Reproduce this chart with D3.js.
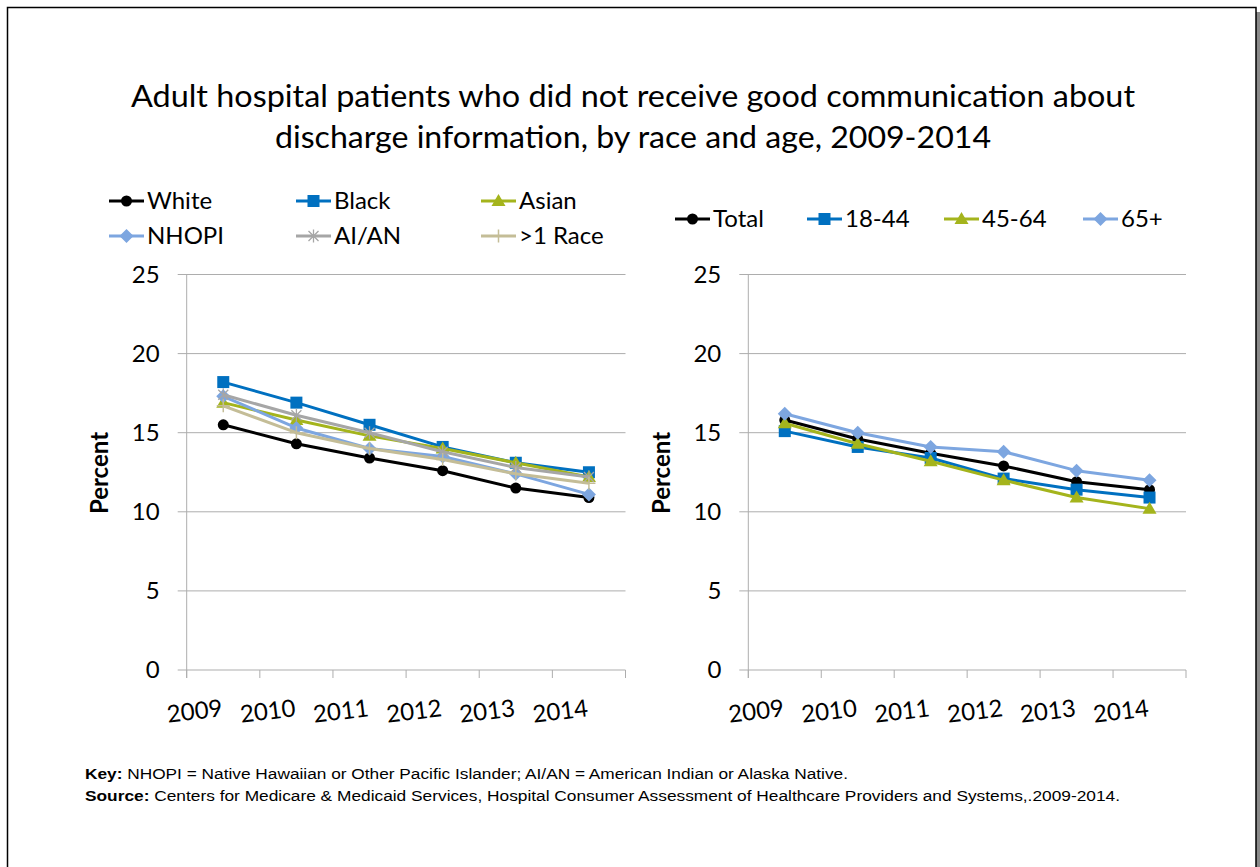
<!DOCTYPE html>
<html><head><meta charset="utf-8">
<script src="https://cdn.jsdelivr.net/npm/d3@7"></script>
<style>html,body{margin:0;padding:0;background:#fff;} svg{display:block;}</style>
</head><body>
<svg id="c" width="1260" height="867"></svg>
<script>
// ---- data ----
const years = ["2009","2010","2011","2012","2013","2014"];
const yTicks = [0,5,10,15,20,25];
const raceNames = ["White","Black","Asian","NHOPI","AI/AN",">1 Race"];
const white = [15.5,14.3,13.4,12.6,11.5,10.9];
const black = [18.2,16.9,15.5,14.1,13.1,12.5];
const asian = [16.9,15.8,14.8,14.0,13.1,12.2];
const nhopi = [17.3,15.3,14.0,13.5,12.4,11.1];
const aian  = [17.4,16.1,15.0,13.8,12.8,12.2];
const multi = [16.7,15.0,14.0,13.3,12.4,11.8];
const ageNames = ["Total","18-44","45-64","65+"];
const total   = [15.8,14.6,13.7,12.9,11.9,11.4];
const age1844 = [15.1,14.1,13.4,12.1,11.4,10.9];
const age4564 = [15.6,14.3,13.2,12.0,10.9,10.2];
const age65   = [16.2,15.0,14.1,13.8,12.6,12.0];
const titleLines = ["Adult hospital patients who did not receive good communication about",
                    "discharge information, by race and age, 2009-2014"];

// ---- styles ----
const C_BLACK="#000000", C_BLUE="#0070C0", C_OLIVE="#A4B41C", C_LBLUE="#7DA6E0", C_GRAY="#A6A6A6", C_TAN="#C4BD97";
const raceSeries = [
  {name:raceNames[0], vals:white, color:C_BLACK, marker:"circle"},
  {name:raceNames[1], vals:black, color:C_BLUE, marker:"square"},
  {name:raceNames[2], vals:asian, color:C_OLIVE, marker:"triangle"},
  {name:raceNames[3], vals:nhopi, color:C_LBLUE, marker:"diamond"},
  {name:raceNames[4], vals:aian, color:C_GRAY, marker:"asterisk"},
  {name:raceNames[5], vals:multi, color:C_TAN, marker:"plus"}
];
const ageSeries = [
  {name:ageNames[0], vals:total, color:C_BLACK, marker:"circle"},
  {name:ageNames[1], vals:age1844, color:C_BLUE, marker:"square"},
  {name:ageNames[2], vals:age4564, color:C_OLIVE, marker:"triangle"},
  {name:ageNames[3], vals:age65, color:C_LBLUE, marker:"diamond"}
];

const svg = d3.select("#c");
const FONT = "Lato, 'Open Sans', sans-serif";
const GRID = "#ADADAD";

// frame
svg.append("rect").attr("x",1256).attr("y",12).attr("width",4).attr("height",860).attr("fill","#8a8a8a");
svg.append("rect").attr("x",7.5).attr("y",7.5).attr("width",1248.5).attr("height",880)
  .attr("fill","#fff").attr("stroke","#000").attr("stroke-width",1.5);

// title
[[titleLines[0],107,1004],[titleLines[1],148,716]].forEach(([t,yy,w])=>{
  svg.append("text").attr("x",633).attr("y",yy).attr("font-family",FONT).attr("font-size",30)
    .attr("text-anchor","middle").attr("fill","#000")
    .attr("textLength",w).attr("lengthAdjust","spacingAndGlyphs").text(t);
});

function drawMarker(g, type, color, cx, cy){
  const m = g.append("g").attr("transform",`translate(${cx},${cy})`);
  if(type==="circle") m.append("circle").attr("r",5.5).attr("fill",color);
  else if(type==="square") m.append("rect").attr("x",-6).attr("y",-6).attr("width",12).attr("height",12).attr("fill",color);
  else if(type==="triangle") m.append("path").attr("d","M0,-7L7,5L-7,5Z").attr("fill",color);
  else if(type==="diamond") m.append("path").attr("d","M0,-7L7,0L0,7L-7,0Z").attr("fill",color);
  else if(type==="asterisk") m.append("path").attr("d","M-5,-5L5,5M-5,5L5,-5M0,-6.5L0,6.5").attr("stroke",color).attr("stroke-width",1.3).attr("fill","none");
  else if(type==="plus") m.append("path").attr("d","M0,-6.5L0,6.5M-6.5,0L6.5,0").attr("stroke",color).attr("stroke-width",1.5).attr("fill","none");
}

function panel(series, x0, x1, yAxisTitleX){
  const x = d3.scaleBand().domain(years).range([x0,x1]);
  const y = d3.scaleLinear().domain([0,25]).range([670,274.5]);
  const g = svg.append("g");
  g.selectAll("line.grid").data(yTicks.filter(t=>t>0)).join("line")
    .attr("x1",x0-9).attr("x2",x1).attr("y1",d=>y(d)).attr("y2",d=>y(d))
    .attr("stroke",GRID).attr("stroke-width",1);
  g.append("line").attr("x1",x0-9).attr("x2",x1).attr("y1",y(0)).attr("y2",y(0)).attr("stroke",GRID);
  g.append("line").attr("x1",x0).attr("x2",x0).attr("y1",y(25)).attr("y2",y(0)+8).attr("stroke",GRID);
  const bounds = years.map(d=>x(d)).concat([x1]);
  g.selectAll("line.xt").data(bounds).join("line")
    .attr("x1",d=>d).attr("x2",d=>d).attr("y1",y(0)).attr("y2",y(0)+8).attr("stroke",GRID);
  g.selectAll("text.yl").data(yTicks).join("text")
    .attr("x",x0-27).attr("y",d=>y(d)).attr("dy","0.35em").attr("text-anchor","end")
    .attr("font-family",FONT).attr("font-size",24).attr("fill","#000").text(d=>d);
  g.selectAll("text.xl").data(years).join("text")
    .attr("transform",d=>`translate(${x(d)+x.bandwidth()/2},${716}) rotate(-7)`)
    .attr("text-anchor","end").attr("font-family",FONT).attr("font-size",24).attr("fill","#000").text(d=>d);
  g.append("text").attr("transform",`translate(${yAxisTitleX},473) rotate(-90)`)
    .attr("text-anchor","middle").attr("dy","0.35em").attr("font-family",FONT).attr("font-weight","bold")
    .attr("font-size",24).attr("fill","#000").text("Percent");
  const line = d3.line().x((d,i)=>x(years[i])+x.bandwidth()/2).y(d=>y(d));
  series.forEach(s=>{
    g.append("path").attr("d",line(s.vals)).attr("fill","none").attr("stroke",s.color)
      .attr("stroke-width",3).attr("stroke-linejoin","round");
    s.vals.forEach((v,i)=>drawMarker(g,s.marker,s.color,x(years[i])+x.bandwidth()/2,y(v)));
  });
}
panel(raceSeries, 186.7, 625.5, 100);
panel(ageSeries, 748.3, 1186, 662);

function legend(series, xs, ys){
  series.forEach((s,i)=>{
    const lx = xs[i % xs.length], ly = ys[Math.floor(i / xs.length)];
    const g = svg.append("g");
    g.append("line").attr("x1",lx).attr("x2",lx+35).attr("y1",ly).attr("y2",ly).attr("stroke",s.color).attr("stroke-width",3);
    drawMarker(g,s.marker,s.color,lx+17.5,ly);
    g.append("text").attr("x",lx+38).attr("y",ly).attr("dy","0.35em").attr("font-family",FONT)
      .attr("font-size",24).attr("fill","#000").text(s.name);
  });
}
legend(raceSeries,[109,296,481],[201,236]);
legend(ageSeries,[675,807,944,1083],[219]);

// footnotes
const FN = "'Liberation Sans', Arial, sans-serif";
const k = svg.append("text").attr("x",85).attr("y",779).attr("font-family",FN).attr("font-size",14)
  .attr("fill","#000").attr("textLength",763).attr("lengthAdjust","spacingAndGlyphs");
k.append("tspan").attr("font-weight","bold").text("Key:");
k.append("tspan").text(" NHOPI = Native Hawaiian or Other Pacific Islander; AI/AN = American Indian or Alaska Native.");
const s = svg.append("text").attr("x",85).attr("y",801).attr("font-family",FN).attr("font-size",14)
  .attr("fill","#000").attr("textLength",1035).attr("lengthAdjust","spacingAndGlyphs");
s.append("tspan").attr("font-weight","bold").text("Source:");
s.append("tspan").text(" Centers for Medicare & Medicaid Services, Hospital Consumer Assessment of Healthcare Providers and Systems,.2009-2014.");
</script>
</body></html>
